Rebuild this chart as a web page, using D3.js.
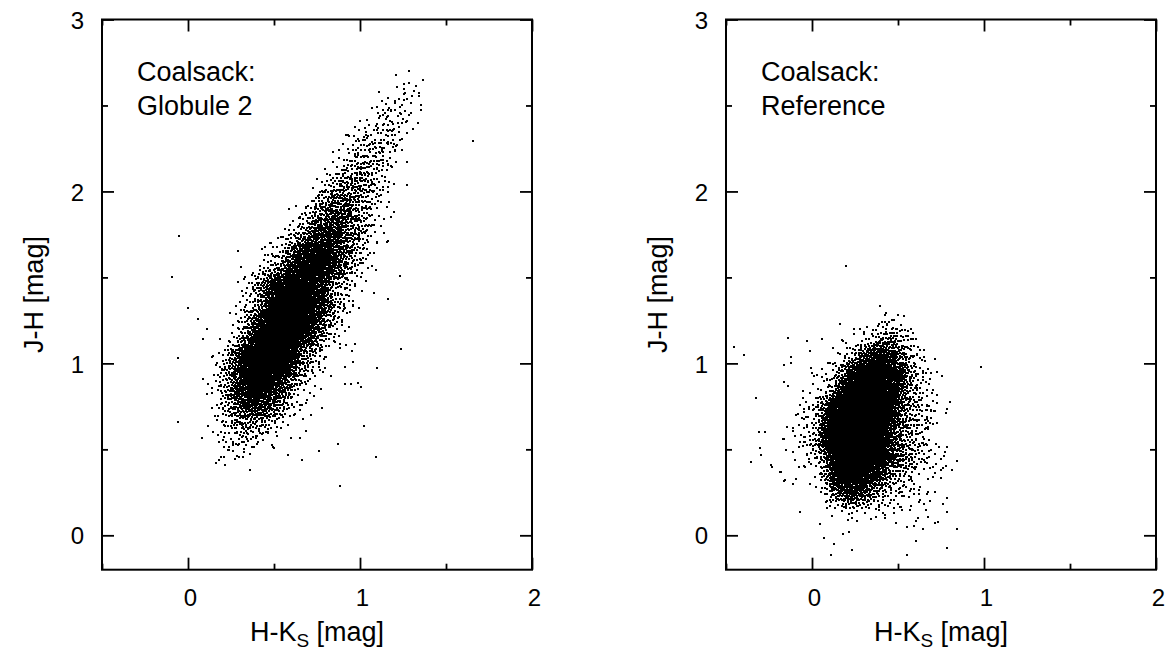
<!DOCTYPE html>
<html><head><meta charset="utf-8">
<script src="https://cdn.jsdelivr.net/npm/d3@7/dist/d3.min.js"></script>
<style>
html,body{margin:0;padding:0;background:#fff;}
svg text{font-family:"Liberation Sans",Arial,Helvetica,sans-serif;fill:#000;}
</style></head>
<body><svg id="c" width="1174" height="660"></svg>
<script>
// ---------------- data ----------------
const xDomain = [-0.5, 2];
const yDomain = [-0.2, 3];
const xMajorTicks = [0, 1, 2];
const xMinorTicks = [-0.5, 0.5, 1.5];
const yMajorTicks = [0, 1, 2, 3];
const yMinorTicks = [0.5, 1.5, 2.5];
const xLabelMain = "H-K", xLabelSub = "S", xLabelTail = " [mag]";
const yLabel = "J-H [mag]";
const panelTitles = [["Coalsack:", "Globule 2"], ["Coalsack:", "Reference"]];

// star counts in bins of 0.05 mag (H-Ks) x 0.1 mag (J-H)
// each row: [J-H lower edge, H-Ks of first bin, counts per bin]
const globuleDensity = [
  [0.4, 0.15, [1,2,3,3,1]],
  [0.5, 0.15, [2,5,9,10,7,4,2,1]],
  [0.6, 0.15, [4,10,18,24,22,15,9,5,2]],
  [0.7, 0.15, [5,14,32,50,60,56,41,25,13,6,2]],
  [0.8, 0.15, [6,20,46,75,98,98,78,54,30,13,5]],
  [0.9, 0.15, [5,18,46,86,124,143,135,104,68,36,18,8,3]],
  [1.0, 0.15, [4,12,34,73,124,162,175,158,114,65,34,14,5,1]],
  [1.1, 0.25, [8,24,57,107,153,175,166,133,88,49,23,10,4,1]],
  [1.2, 0.25, [4,12,33,70,117,158,175,162,125,81,44,21,8,3]],
  [1.3, 0.30, [4,12,33,68,112,146,156,140,107,72,40,20,8,3]],
  [1.4, 0.30, [4,10,26,56,91,117,124,109,82,53,30,14,6,2]],
  [1.5, 0.40, [4,11,25,52,81,104,106,91,67,43,24,11,5,1]],
  [1.6, 0.45, [3,8,20,41,64,81,85,73,52,32,18,8,4,1]],
  [1.7, 0.55, [4,13,28,48,60,64,56,39,25,14,6,2]],
  [1.8, 0.60, [3,8,20,34,45,49,42,29,17,8,4,1]],
  [1.9, 0.70, [6,14,25,34,35,29,18,10,5,1]],
  [2.0, 0.75, [4,10,18,24,25,21,14,7,3]],
  [2.1, 0.80, [1,6,12,18,19,16,11,5,1]],
  [2.2, 0.85, [1,5,11,14,14,11,7,3]],
  [2.3, 0.95, [1,4,8,11,11,7,4,1]],
  [2.4, 1.00, [1,3,6,8,7,4,1]],
  [2.5, 1.10, [1,2,4,4,3,1]],
  [2.6, 1.20, [1,1,1]]
];
const globuleOutliers = [
  [1.364,2.651],[1.325,2.612],[1.253,2.622],[1.26,2.57],[1.253,2.531],[1.354,2.502],[1.655,2.292],
  [1.272,2.04],[1.195,1.88],[1.233,1.51],[1.163,1.372],[1.082,1.41],[1.093,1.542],[1.014,1.581],
  [0.291,1.653],[0.431,1.663],[0.48,1.701],[0.311,1.562],[0.421,1.542],[-0.051,1.74],[-0.091,1.5],
  [0.0,1.32],[0.06,1.258],[0.108,1.199],[0.089,1.139],[0.14,1.038],[-0.06,1.029],[0.089,0.907],
  [0.118,0.878],[0.111,0.82],[0.14,0.738],[-0.06,0.657],[0.118,0.637],[0.079,0.567],[0.161,0.419],
  [0.182,0.438],[0.212,0.457],[0.182,0.541],[0.208,0.515],[0.241,0.496],[0.883,0.288],[1.092,0.457],
  [0.66,0.438],[0.58,0.469],[0.761,0.488],[0.872,0.529],[1.023,0.637],[0.781,0.738],[0.684,0.608],
  [0.65,0.567],[0.499,0.509],[0.402,0.529],[0.402,0.577],[0.519,0.631],[0.431,0.64],[0.713,0.699],
  [0.911,0.878],[0.946,0.878],[1.004,0.86],[0.991,0.887],[1.101,0.971],[0.911,0.977],[0.962,1.009],
  [0.956,1.071],[0.969,1.11],[0.883,1.11],[1.241,1.081],[0.833,0.926],[0.771,0.849],[0.732,0.81],
  [0.664,0.758],[0.615,0.699],[0.548,0.699],[0.509,0.602],[0.431,0.587],
  [1.198,2.366],[1.204,2.24],[1.237,2.453],[1.169,2.483],[1.033,2.347],[1.043,2.415],[0.913,2.108],
  [0.829,1.988],[0.761,1.963],[0.742,1.901],[0.65,1.852],[0.703,1.814]
];

const referenceDensity = [
  [0.1, 0.05, [1,3,5,6,5,4,3,2,2,1,1,1]],
  [0.2, 0.00, [2,8,24,48,62,56,40,24,14,9,7,5,3,2,1]],
  [0.3, -0.05, [1,4,18,78,140,150,128,94,62,38,21,13,8,5,3,2,1]],
  [0.4, -0.10, [1,3,6,24,84,168,210,206,172,124,82,52,30,18,11,7,4,2,1]],
  [0.5, -0.15, [1,3,8,22,68,146,206,224,218,182,130,82,48,26,15,9,5,2,1]],
  [0.6, -0.15, [1,2,5,14,48,120,196,224,224,200,150,96,56,30,17,9,5,2,1]],
  [0.7, -0.10, [2,4,10,32,88,160,206,214,200,164,116,74,40,20,11,6,2,1]],
  [0.8, 0.00, [2,6,20,56,120,170,182,164,122,78,42,20,10,5,2,1]],
  [0.9, 0.00, [1,3,8,24,60,104,136,138,122,86,50,23,9,4,1]],
  [1.0, 0.10, [1,4,12,28,52,68,68,52,27,10,4,1]],
  [1.1, 0.25, [1,5,12,21,26,18,6,1]],
  [1.2, 0.35, [1,3,4,2]]
];
const referenceOutliers = [
  [-0.451,1.097],[-0.393,1.048],[-0.142,1.149],[-0.031,1.129],[0.06,1.139],[0.161,1.228],[-0.01,1.071],
  [-0.161,0.988],[-0.121,1.0],[-0.122,1.038],[-0.004,0.974],[0.0,0.945],[-0.323,0.798],[-0.16,0.891],
  [-0.142,0.868],[-0.051,0.841],[-0.051,0.798],[-0.045,0.678],[-0.311,0.599],[-0.272,0.599],[-0.301,0.509],
  [-0.294,0.469],[-0.352,0.426],[-0.241,0.409],[-0.233,0.399],[-0.181,0.366],[-0.161,0.316],[-0.111,0.3],
  [-0.091,0.327],[-0.171,0.558],[-0.152,0.498],[-0.109,0.486],[-0.111,0.606],[-0.101,0.576],[-0.101,0.438],
  [-0.07,0.544],[-0.039,0.399],[-0.072,0.137],[0.068,-0.014],[0.13,-0.052],[0.111,-0.115],[0.182,0.006],
  [0.217,0.021],[0.233,-0.087],[0.048,0.066],[0.246,1.198],[0.277,1.198],[0.301,1.184],[0.18,1.129],
  [0.198,1.12],[0.151,1.062],[0.029,0.932],[0.06,0.918],[0.087,0.907],[-0.02,0.734],[-0.049,0.734],
  [-0.058,0.68],[-0.049,0.626],[-0.04,0.57],[-0.05,0.52],[-0.03,0.47],[-0.185,0.37],[-0.156,0.322],
  [0.2,1.566],[0.981,0.98],[0.427,1.281],[0.476,1.252],[0.651,1.077],[0.66,0.942],[0.689,0.942],
  [0.728,0.951],[0.588,1.038],[0.548,1.097],[0.553,0.99],[0.592,0.829],[0.763,0.39],[0.812,0.38],
  [0.787,0.215],[0.787,0.137],[0.763,0.182],[0.732,0.079],[0.715,0.07],[0.841,0.037],[0.783,-0.076],
  [0.55,-0.115],[0.602,-0.031],[0.647,0.035],[0.676,0.108],[0.689,0.68],[0.685,0.655],[0.676,0.632],
  [0.666,0.729],[0.627,0.729],[0.66,0.531],[0.666,0.448],[0.631,0.428],[0.602,0.399],[0.651,0.182],
  [0.621,0.238],[0.567,0.147],[0.524,0.147],[0.602,0.67],[0.592,0.641],[0.583,0.583],[0.583,0.318],
  [0.592,0.267],[0.621,0.195],[0.573,0.17],[0.602,0.085],[0.592,0.056],[0.55,0.047],[0.427,0.099],
  [0.476,0.128],[0.505,0.244],[0.524,0.253]
];
const binW = 0.05, binH = 0.1;

// ---------------- drawing ----------------
const svg = d3.select("#c");
const panels = [
  {left: 102, density: globuleDensity, outliers: globuleOutliers, titles: panelTitles[0]},
  {left: 726, density: referenceDensity, outliers: referenceOutliers, titles: panelTitles[1]}
];
const plotW = 430, plotTop = 19.5, plotBottom = 569.7;

function frac(v){ return v - Math.floor(v); }
// inverse CDF of the triangular distribution on [-1, 1]
function tent(u){ return u < 0.5 ? Math.sqrt(2*u) - 1 : 1 - Math.sqrt(2*(1 - u)); }
// Expand each bin's count into marks: deterministic R2 low-discrepancy placement,
// shaped by a one-bin tent around the bin centre so that neighbouring bins blend.
const R2 = [0.7548776662, 0.5698402910];
function expand(density){
  const pts = [];
  density.forEach((row, r) => {
    const [y0, x0, counts] = row;
    counts.forEach((n, i) => {
      const cell = r*5 + i*3;
      const swap = cell & 1, fx = (cell >> 1) & 1, fy = (cell >> 2) & 1;
      const a0 = swap ? R2[1] : R2[0], a1 = swap ? R2[0] : R2[1];
      const s0 = frac(r*0.3183 + i*0.1271), s1 = frac(r*0.7131 + i*0.4313);
      for (let k = 1; k <= n; k++) {
        let u = frac(s0 + k*a0), v = frac(s1 + k*a1);
        if (fx) u = 1 - u;
        if (fy) v = 1 - v;
        pts.push([x0 + (i + 0.5 + tent(u))*binW, y0 + (0.5 + tent(v))*binH]);
      }
    });
  });
  return pts;
}

panels.forEach(p => {
  const x = d3.scaleLinear().domain(xDomain).range([p.left, p.left + plotW]);
  const y = d3.scaleLinear().domain(yDomain).range([plotBottom, plotTop]);
  const g = svg.append("g");

  const pts = expand(p.density).concat(p.outliers);
  g.append("g").attr("shape-rendering", "crispEdges").selectAll("rect").data(pts).join("rect")
    .attr("x", d => Math.round(x(d[0]) - 1)).attr("y", d => Math.round(y(d[1]) - 1))
    .attr("width", 2).attr("height", 2).attr("fill", "#000");

  // axes (ticks inward on all four sides)
  const tickMaj = 12, tickMin = 6, sw = 1.8;
  const gB = g.append("g").attr("transform", `translate(0,${plotBottom})`)
    .call(d3.axisBottom(x).tickValues(xMajorTicks).tickSize(-tickMaj).tickPadding(19).tickFormat(d3.format("d")));
  const gBm = g.append("g").attr("transform", `translate(0,${plotBottom})`).call(d3.axisBottom(x).tickValues(xMinorTicks).tickSize(-tickMin).tickFormat(""));
  const gT = g.append("g").attr("transform", `translate(0,${plotTop})`).call(d3.axisTop(x).tickValues(xMajorTicks).tickSize(-tickMaj).tickFormat(""));
  const gTm = g.append("g").attr("transform", `translate(0,${plotTop})`).call(d3.axisTop(x).tickValues(xMinorTicks).tickSize(-tickMin).tickFormat(""));
  const gL = g.append("g").attr("transform", `translate(${p.left},0)`)
    .call(d3.axisLeft(y).tickValues(yMajorTicks).tickSize(-tickMaj).tickPadding(18).tickFormat(d3.format("d")));
  const gLm = g.append("g").attr("transform", `translate(${p.left},0)`).call(d3.axisLeft(y).tickValues(yMinorTicks).tickSize(-tickMin).tickFormat(""));
  const gR = g.append("g").attr("transform", `translate(${p.left + plotW},0)`).call(d3.axisRight(y).tickValues(yMajorTicks).tickSize(-tickMaj).tickFormat(""));
  const gRm = g.append("g").attr("transform", `translate(${p.left + plotW},0)`).call(d3.axisRight(y).tickValues(yMinorTicks).tickSize(-tickMin).tickFormat(""));
  [gB,gBm,gT,gTm,gL,gLm,gR,gRm].forEach(a => {
    a.select(".domain").remove();
    a.selectAll("line").attr("stroke", "#000").attr("stroke-width", sw);
    a.selectAll("text").attr("font-size", 24).attr("font-family", '"Liberation Sans",Arial,sans-serif').attr("fill", "#000");
  });
  gB.selectAll("text").attr("dx", 2);
  gL.selectAll("text").attr("dy", "0.36em");

  // frame
  g.append("rect").attr("x", p.left).attr("y", plotTop).attr("width", plotW).attr("height", plotBottom - plotTop)
    .attr("fill", "none").attr("stroke", "#000").attr("stroke-width", 2);

  // axis titles
  const xt = g.append("text").attr("x", p.left + plotW/2).attr("y", 641).attr("text-anchor", "middle").attr("font-size", 27);
  xt.append("tspan").text(xLabelMain);
  xt.append("tspan").attr("font-size", 19).attr("dy", 6).text(xLabelSub);
  xt.append("tspan").attr("dy", -6).text(xLabelTail);
  g.append("text").attr("transform", `translate(${p.left - 59},${(plotTop + plotBottom)/2}) rotate(-90)`)
    .attr("text-anchor", "middle").attr("font-size", 27).text(yLabel);

  // annotation
  g.append("text").attr("x", p.left + 35).attr("y", 81).attr("font-size", 27).text(p.titles[0]);
  g.append("text").attr("x", p.left + 35).attr("y", 115).attr("font-size", 27).text(p.titles[1]);
});
</script></body></html>
